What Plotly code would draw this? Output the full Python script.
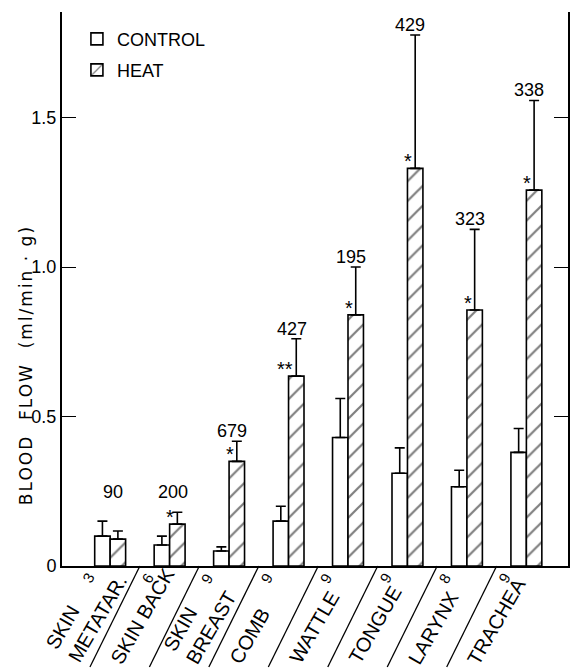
import plotly.graph_objects as go

# ---------------- data ----------------
categories = ["SKIN<br>METATAR.", "SKIN BACK", "SKIN<br>BREAST", "COMB",
              "WATTLE", "TONGUE", "LARYNX", "TRACHEA"]
n_animals = ["3", "6", "9", "9", "9", "9", "8", "9"]
control = [0.10, 0.07, 0.05, 0.15, 0.43, 0.31, 0.265, 0.38]
control_err = [0.05, 0.03, 0.014, 0.05, 0.13, 0.085, 0.055, 0.08]
heat = [0.09, 0.14, 0.35, 0.635, 0.84, 1.33, 0.856, 1.257]
heat_err = [0.027, 0.04, 0.067, 0.125, 0.16, 0.446, 0.27, 0.30]
percent_labels = ["90", "200", "679", "427", "195", "429", "323", "338"]
significance = ["", "*", "*", "**", "*", "*", "*", "*"]
y_tick_vals = [0, 0.5, 1.0, 1.5]
y_tick_text = ["0", "0.5", "1.0", "1.5"]

FONT = "Liberation Sans"
idx = list(range(len(categories)))
BW = 0.26  # bar width in category units

# layout geometry (pixels)
W, H = 574, 669
ML, MR, MT, MB = 62, 4, 12, 103
XR = [-0.81, 7.70]
PW, PH = W - ML - MR, H - MT - MB
UNIT = PW / (XR[1] - XR[0])        # px per category
BASE = H - MB                       # baseline pixel row


def px_to_paper_y(py):
    return (BASE - py) / PH


# approx. Liberation Sans advance widths (em) for label text
CW = {"A": .667, "B": .667, "C": .722, "E": .667, "G": .778, "H": .722,
      "I": .278, "K": .667, "L": .556, "M": .833, "N": .722, "O": .778,
      "R": .722, "S": .667, "T": .611, "U": .722, "W": .944, "X": .667,
      "Y": .667, ".": .278, " ": .278}
LBL_SIZE = 20

fig = go.Figure()
fig.add_trace(go.Bar(
    x=idx, y=control, name="CONTROL", legend="legend",
    marker=dict(color="white", line=dict(color="black", width=1.6)),
    error_y=dict(type="data", symmetric=False, array=control_err,
                 arrayminus=[0] * len(control), color="black",
                 thickness=1.6, width=5),
))
fig.add_trace(go.Bar(
    x=idx, y=heat, name="HEAT", legend="legend2",
    marker=dict(color="white", line=dict(color="black", width=1.6),
                pattern=dict(shape="/", fgcolor="black", bgcolor="white",
                             size=14, solidity=0.16)),
    error_y=dict(type="data", symmetric=False, array=heat_err,
                 arrayminus=[0] * len(heat), color="black",
                 thickness=1.6, width=5),
))

annotations = []
shapes = []
for i in idx:
    top = max(control[i] + control_err[i], heat[i] + heat_err[i], 0.215)
    annotations.append(dict(
        x=i + 0.05, y=top, xref="x", yref="y", text=percent_labels[i],
        showarrow=False, yanchor="bottom", yshift=-2,
        font=dict(size=18, family=FONT, color="black")))
    if significance[i]:
        annotations.append(dict(
            x=i + BW / 2, y=heat[i], xref="x", yref="y", text=significance[i],
            showarrow=False, xanchor="right", yanchor="bottom",
            xshift=-1, yshift=-6,
            font=dict(size=20, family=FONT, color="black")))
    # sample size
    annotations.append(dict(
        x=i - 0.38, y=px_to_paper_y(BASE + 12), xref="x", yref="paper",
        text=n_animals[i], showarrow=False, textangle=-60,
        xanchor="center", yanchor="middle",
        font=dict(size=15, family=FONT, color="black")))
    # category label: rotated block starting bottom-left below the group
    lines = categories[i].split("<br>")
    L = max(sum(CW.get(c, .65) for c in ln) for ln in lines) * LBL_SIZE
    nl = len(lines)
    start_dx = -44 if nl == 1 else -28
    sx, sy = start_dx, BASE + 102
    hb = LBL_SIZE * 1.15 + (nl - 1) * LBL_SIZE * 1.3
    # text direction d=(0.5,-0.866); up direction u=(-0.866,-0.5)
    cx = sx + 0.5 * L / 2 - 0.866 * hb / 2
    cy = sy - 0.866 * L / 2 - 0.5 * hb / 2
    annotations.append(dict(
        x=i + cx / UNIT, y=px_to_paper_y(cy), xref="x", yref="paper",
        text=categories[i], showarrow=False, textangle=-60,
        xanchor="center", yanchor="middle", align="left",
        font=dict(size=LBL_SIZE, family=FONT, color="black")))
    if i < len(categories) - 1:
        shapes.append(dict(type="line", xref="x", yref="paper",
                           x0=i + 0.5, y0=0, x1=i + 0.5 - 0.84,
                           y1=px_to_paper_y(BASE + 101),
                           line=dict(color="black", width=1.3)))

# y-axis title placed as rotated annotation
annotations.append(dict(
    x=(26 - ML) / PW, y=px_to_paper_y(365), xref="paper", yref="paper",
    text='<span style="letter-spacing:2px">BLOOD  FLOW  (ml/min · g)</span>',
    showarrow=False, textangle=-90, xanchor="center", yanchor="middle",
    font=dict(size=17, family="DejaVu Sans", color="black")))

fig.update_layout(
    width=W, height=H, autosize=False, showlegend=True,
    margin=dict(l=ML, r=MR, t=MT, b=MB),
    plot_bgcolor="white", paper_bgcolor="white",
    font=dict(family=FONT, size=18, color="black"),
    barmode="group", bargap=1 - 2 * BW, bargroupgap=0,
    xaxis=dict(range=XR, showticklabels=False, ticks="",
               showgrid=False, zeroline=False, showline=True,
               linecolor="black", linewidth=2),
    yaxis=dict(range=[0, PH / 299], tickvals=y_tick_vals, ticktext=y_tick_text,
               ticks="inside", ticklen=14, tickwidth=1.3, tickcolor="black",
               showgrid=False, zeroline=False, showline=True,
               linecolor="black", linewidth=2, mirror="ticks",
               tickfont=dict(size=18, family=FONT)),
    legend=dict(x=0.0295, y=0.951, xanchor="left", yanchor="middle",
                bgcolor="rgba(0,0,0,0)", font=dict(size=18, family=FONT)),
    legend2=dict(x=0.0295, y=0.895, xanchor="left", yanchor="middle",
                 bgcolor="rgba(0,0,0,0)", font=dict(size=18, family=FONT)),
    annotations=annotations,
    shapes=shapes,
)

fig.write_html("out.html", config={"displayModeBar": False},
               post_script="document.body.style.margin='0';"
                           "document.body.style.overflow='hidden';")
